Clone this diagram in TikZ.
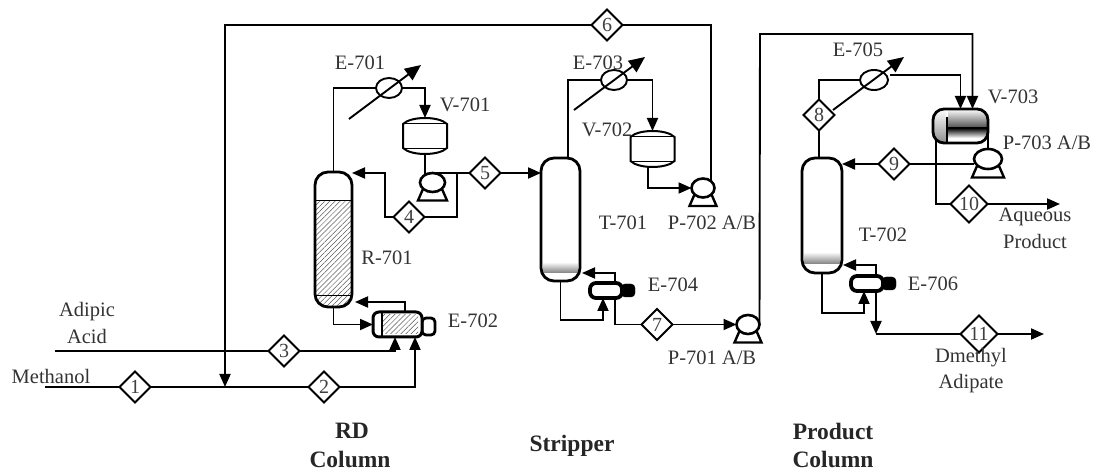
\documentclass[tikz,border=0pt]{standalone}
\usepackage{fontspec}
\setmainfont{Liberation Serif}
\usetikzlibrary{arrows.meta,patterns.meta,shapes.geometric}

\begin{document}
\begin{tikzpicture}[x=1pt,y=-1pt,
    stream/.style={line width=1.9pt},
    feedarrow/.style={stream,-{Triangle[length=13pt,width=11pt]}},
    ctrlarrow/.style={stream,-{Triangle[length=16pt,width=14pt]}},
    snode/.style={draw,diamond,line width=1.9pt,fill=white,aspect=1,inner sep=0pt,outer sep=0pt,minimum size=31pt,font=\fontsize{20}{20}\selectfont,text=black!75},
    bignode/.style={snode,minimum size=37pt},
    column/.style={draw,line width=2.8pt,rounded corners=13pt,outer sep=0pt,inner sep=0pt},
    drum/.style={outer sep=0pt,inner sep=0pt,minimum width=44pt,minimum height=36pt},
    pump/.style={draw,ellipse,line width=2.6pt,fill=white,outer sep=0pt,inner sep=0pt},
    cooler/.style={draw,ellipse,line width=1.9pt,outer sep=0pt,inner sep=0pt,minimum width=26pt,minimum height=20pt},
    reboiler/.style={draw,rectangle,line width=3pt,rounded corners=6pt,fill=white,outer sep=0pt,inner sep=0pt},
    hatch/.style={pattern={Lines[angle=45,distance=3.6pt,line width=0.5pt]},pattern color=black!65},
    rule/.style={line width=1pt},
    tag/.style={font=\fontsize{20.5}{20.5}\selectfont,text=black!80,inner sep=0pt},
    head/.style={font=\fontsize{23.5}{23.5}\selectfont\bfseries,text=black!85,inner sep=0pt}
    ]
    \useasboundingbox (0,0) rectangle (1093,470);

    % the columns
    \path[hatch] (315,201) -- (352,201) [rounded corners=13pt] -- (352,307) -- (315,307) [sharp corners] -- cycle;
    \shade[top color=white,bottom color=black!50] (543,262) rectangle (578,273);
    \shade[top color=white,bottom color=black!50] (804,252) rectangle (840,264);
    \node[column,minimum width=37pt,minimum height=135pt] (r701) at (333.5,239.5) {};
    \node[column,minimum width=39pt,minimum height=123pt] (t701) at (560.5,219.5) {};
    \node[column,minimum width=40pt,minimum height=115pt] (t702) at (822,215.5) {};
    \draw[rule] (r701.west |- 0,201) -- (r701.east |- 0,201);
    \draw[rule] (r701.west |- 0,296) -- (r701.east |- 0,296);

    % the reflux drums
    \foreach \n/\cx/\cy in {v701/425/136,v702/652.5/149} {
    \node[drum] (\n) at (\cx,\cy) {};
    \draw[line width=2pt,fill=white] (\cx-22,\cy-12) .. controls (\cx-14,\cy-20) and (\cx+14,\cy-20) .. (\cx+22,\cy-12) -- (\cx+22,\cy+12) .. controls (\cx+14,\cy+20) and (\cx-14,\cy+20) .. (\cx-22,\cy+12) -- cycle;
    \draw[rule] ([yshift=-6pt]\n.north west) -- ([yshift=-6pt]\n.north east);
    \draw[rule] ([yshift=5pt]\n.south west) -- ([yshift=5pt]\n.south east);
    }

    % the overhead drum
    \begin{scope}
    \clip[rounded corners=11pt] (933,109) rectangle (988,143);
    \shade[top color=white,bottom color=black!45] (933,109) rectangle (946,143);
    \shade[top color=white,bottom color=black!70] (948,109) rectangle (988,128);
    \shade[top color=black,bottom color=white] (948,128) rectangle (988,138);
    \end{scope}
    \node[column,rounded corners=11pt,minimum width=55pt,minimum height=34pt] (v703) at (960.5,126) {};
    \draw[stream] (947,117) -- (947,143);

    % the pumps
    \foreach \n/\cx/\cy/\w/\h in {pr701/432.5/182.5/25/19,p702/703/188/23/19,p701/748/324.5/23/19,p703/988/159/28/20} {
    \draw[line width=2.4pt] (\cx-\w/2+3,\cy+\h/2-3) -- (\cx-\w/2-2,\cy+\h/2+8.5) -- (\cx+\w/2+2,\cy+\h/2+8.5) -- (\cx+\w/2-3,\cy+\h/2-3);
    \node[pump,minimum width=\w pt,minimum height=\h pt] (\n) at (\cx,\cy) {};
    }

    % the reboilers
    \node[draw,line width=2.8pt,rounded corners=4pt,inner sep=0pt,minimum width=13pt,minimum height=17pt] (e702cap) at (428.5,326.5) {};
    \node[reboiler,minimum width=49pt,minimum height=25pt] (e702) at (397.5,324.5) {};
    \node[hatch,inner sep=0pt,minimum width=35pt,minimum height=19pt] (e702core) at (400.5,324.5) {};
    \draw[stream] (e702.north -| 382,0) -- (e702.south -| 382,0);
    \node[draw,fill=black,rounded corners=4pt,inner sep=0pt,minimum width=14pt,minimum height=13pt] (e704cap) at (628,290.5) {};
    \node[reboiler,line width=3.8pt,minimum width=32pt,minimum height=15pt] (e704) at (606,290.5) {};
    \node[draw,fill=black,rounded corners=4pt,inner sep=0pt,minimum width=14pt,minimum height=13pt] (e706cap) at (889,283.5) {};
    \node[reboiler,line width=3.8pt,minimum width=32pt,minimum height=15pt] (e706) at (867,283.5) {};

    % the condensers
    \node[cooler] (e701) at (389,88) {};
    \node[cooler] (e703) at (614,80) {};
    \node[cooler,minimum width=28pt] (e705) at (874,80) {};
    \coordinate (e701low) at (349,119);
    \coordinate (e701tip) at (421,65);
    \coordinate (e703low) at (574,110);
    \coordinate (e703tip) at (645,57);
    \coordinate (e705low) at (833,110);
    \coordinate (e705tip) at (904,57);
    \draw[ctrlarrow] (e701low) -- (e701tip);
    \draw[ctrlarrow] (e703low) -- (e703tip);
    \draw[ctrlarrow] (e705low) -- (e705tip);

    % the stream numbers
    \foreach \i/\cx/\cy in {1/135/387,2/324/387,3/284/351,4/409/217,5/485/173,6/607/25,7/657/324.5,8/819/115,9/894/164}
    \node[snode] (s\i) at (\cx,\cy) {\i};
    \node[bignode] (s10) at (969,204) {10};
    \node[bignode] (s11) at (979,334) {11};

    % the free ends and the bends
    \coordinate (mfeed) at (45,387);
    \coordinate (afeed) at (55,351);
    \coordinate (mix) at (225,387);
    \coordinate (split5) at (457,173);
    \coordinate (rjoin) at (385,173);
    \coordinate (r701ret) at (355,302);
    \coordinate (t701ret) at (582,273);
    \coordinate (t702ret) at (843,265);
    \coordinate (t701low) at (603,320);
    \coordinate (t702low) at (864,313);
    \coordinate (overtop) at (760,34);
    \coordinate (e705out) at (890,75);
    \coordinate (aqout) at (1060,204);
    \coordinate (prodturn) at (876,334);
    \coordinate (prodout) at (1044,334);

    % the feeds
    \draw[stream] (mfeed) -- (s1);
    \draw[stream] (s1) -- (s2);
    \draw[feedarrow] (s2.east) -| ([xshift=17.5pt]e702.south);
    \draw[stream] (afeed) -- (s3);
    \draw[feedarrow] (s3.east) -| ([xshift=-2.5pt]e702.south);
    \draw[feedarrow] (s6.west) -| (mix);

    % the reactive column
    \draw[stream] (r701.north) |- (e701.west);
    \draw[feedarrow] (e701.east) -| (v701.north);
    \draw[stream] (v701.south) -- (v701.south |- pr701.north west);
    \draw[stream] (pr701.north) -- (s5.west);
    \draw[stream] (split5) |- (s4.east);
    \draw[feedarrow] (s4.west) -| (rjoin) -- (r701.east |- rjoin);
    \draw[feedarrow] (s5.east) -- (t701.west |- s5.east);
    \draw[feedarrow] (r701.south) |- (e702.west);
    \draw[feedarrow] ([xshift=7.5pt]e702.north) |- (r701ret);

    % the stripper
    \draw[stream] ([xshift=7.5pt]t701.north) |- (e703.west);
    \draw[feedarrow] (e703.east) -| (v702.north);
    \draw[feedarrow] ([xshift=-4.5pt]v702.south) |- (p702.west);
    \draw[stream] (p702.north east) |- (s6.east);
    \draw[feedarrow] (t701.south) |- (t701low) -- ([xshift=-3pt]e704.south);
    \draw[feedarrow] ([xshift=9pt]e704.north) |- (t701ret);
    \draw[stream] ([xshift=9pt]e704.south) |- (s7.west);
    \draw[feedarrow] (s7.east) -- (p701.west);
    \draw[feedarrow] (p701.east) -- (overtop) -| ([xshift=12pt]v703.north);

    % the product column
    \draw[stream] (t702.north -| s8.south) -- (s8.south);
    \draw[stream] (s8.north) |- (e705.west);
    \draw[feedarrow] (e705out) -| (v703.north);
    \draw[stream] (v703.east) -- (p703.north);
    \draw[stream] (p703.west |- s9.east) -- (s9.east);
    \draw[feedarrow] (s9.west) -- (t702.east |- s9.west);
    \draw[stream] ([xshift=3pt,yshift=4pt]v703.south west) |- (s10.west);
    \draw[feedarrow] (s10.east) -- (aqout);
    \draw[feedarrow] (t702.south) |- (t702low) -- ([xshift=-3pt]e706.south);
    \draw[feedarrow] ([xshift=9pt]e706.north) |- (t702ret);
    \draw[feedarrow] ([xshift=9pt]e706.south) -- (prodturn);
    \draw[stream] (prodturn) -- (s11.west);
    \draw[feedarrow] (s11.east) -- (prodout);

    % the labels
    \foreach \n/\cx/\cy/\t in {a/360/63/{E-701},b/465/105/{V-701},c/387/258/{R-701},d/473/321/{E-702},
        e/598/63/{E-703},f/607/130/{V-702},g/623/223/{T-701},h/712/223/{P-702 A/B},i/673/285/{E-704},j/712/358/{P-701 A/B},
        k/858/50/{E-705},l/1013/97/{V-703},m/1047/143/{P-703 A/B},n/883/235/{T-702},o/933/284/{E-706},
        p/1035/217/{Aqueous},q/1035/241/{Product},r/971/358/{Dmethyl},s/971/384/{Adipate},
        t/87/312/{Adipic},u/87/336/{Acid},v/51/376/{Methanol}}
    \node[tag] (l\n) at (\cx,\cy) {\t};
    \node[head] (hrd) at (352,431) {RD};
    \node[head] (hrdc) at (350,459) {Column};
    \node[head] (hst) at (572,446) {Stripper};
    \node[head] (hpr) at (833,431) {Product};
    \node[head] (hprc) at (833,459) {Column};
\end{tikzpicture}
\end{document}
